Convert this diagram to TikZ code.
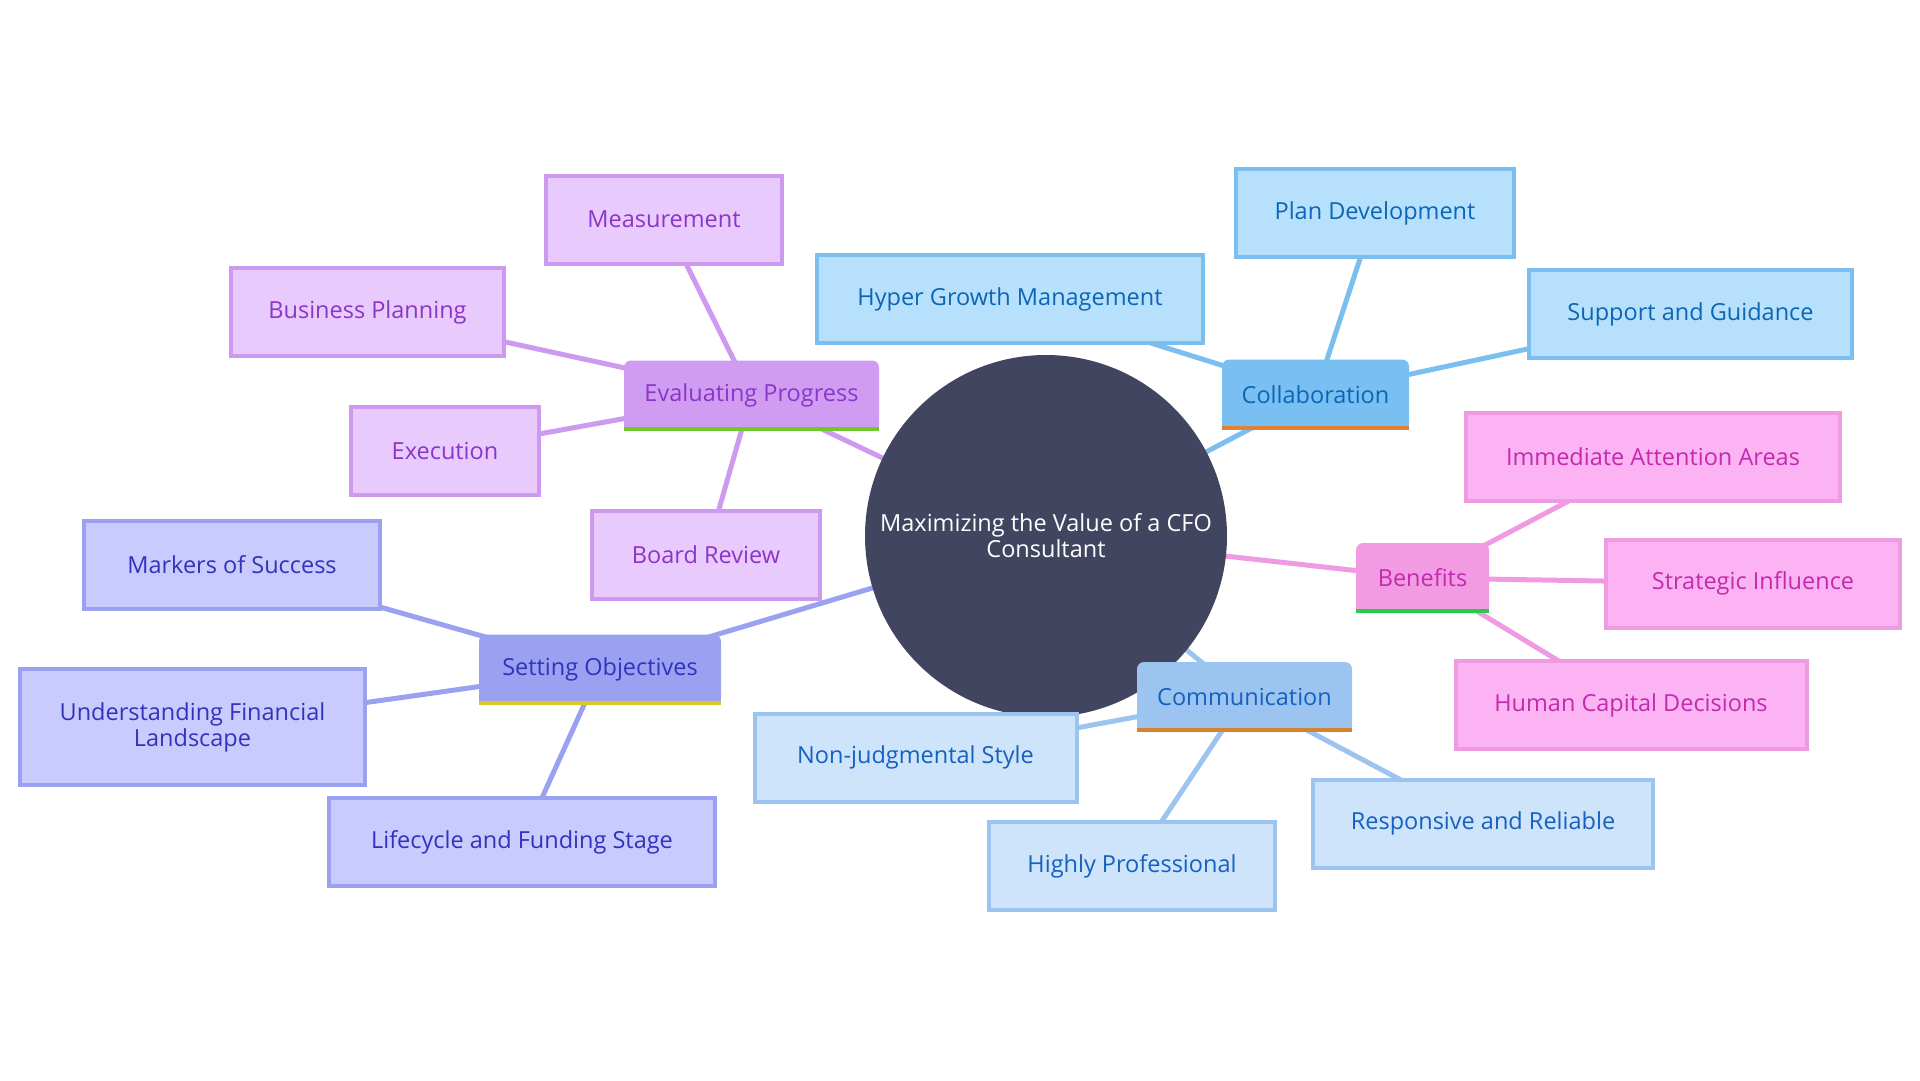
\documentclass[tikz,border=0pt]{standalone}
\usepackage{fontspec}
\setmainfont{Open Sans}
\usepackage{tikz}
\usetikzlibrary{backgrounds}

\definecolor{hubFill}{HTML}{414560}
% Evaluating Progress
\definecolor{evTopic}{HTML}{CF9CF2}
\definecolor{evLeaf}{HTML}{E8CAFD}
\definecolor{evBorder}{HTML}{CD9AF0}
\definecolor{evText}{HTML}{8B35C9}
\definecolor{evMark}{HTML}{6CCB2A}
% Collaboration
\definecolor{clTopic}{HTML}{79BFF1}
\definecolor{clLeaf}{HTML}{B7E0FD}
\definecolor{clBorder}{HTML}{7BBFF0}
\definecolor{clText}{HTML}{0B66B5}
\definecolor{clMark}{HTML}{E0813A}
% Benefits
\definecolor{bnTopic}{HTML}{F29BE3}
\definecolor{bnLeaf}{HTML}{FBB3F3}
\definecolor{bnBorder}{HTML}{F09AE2}
\definecolor{bnText}{HTML}{C42AAE}
\definecolor{bnMark}{HTML}{27CC46}
% Setting Objectives
\definecolor{soTopic}{HTML}{9BA1F1}
\definecolor{soLeaf}{HTML}{C9CBFE}
\definecolor{soBorder}{HTML}{9BA1F1}
\definecolor{soText}{HTML}{3133BC}
\definecolor{soMark}{HTML}{D8CB25}
% Communication
\definecolor{cmTopic}{HTML}{9CC4F0}
\definecolor{cmLeaf}{HTML}{CDE4FB}
\definecolor{cmBorder}{HTML}{9DC4F0}
\definecolor{cmText}{HTML}{1660C0}
\definecolor{cmMark}{HTML}{D6842B}

\tikzset{
  hub/.style={circle, fill=hubFill, text=white, minimum size=362pt, inner sep=0pt, align=center},
  topic/.style={rectangle, rounded corners=7pt, inner sep=0pt, minimum height=70pt, align=center},
  leaf/.style={rectangle, line width=4pt, inner sep=0pt, minimum height=88pt, align=center},
  evtopic/.style={topic, fill=evTopic, text=evText},
  evleaf/.style={leaf, draw=evBorder, fill=evLeaf, text=evText},
  cltopic/.style={topic, fill=clTopic, text=clText},
  clleaf/.style={leaf, draw=clBorder, fill=clLeaf, text=clText},
  bntopic/.style={topic, fill=bnTopic, text=bnText},
  bnleaf/.style={leaf, draw=bnBorder, fill=bnLeaf, text=bnText},
  sotopic/.style={topic, fill=soTopic, text=soText},
  soleaf/.style={leaf, draw=soBorder, fill=soLeaf, text=soText},
  cmtopic/.style={topic, fill=cmTopic, text=cmText},
  cmleaf/.style={leaf, draw=cmBorder, fill=cmLeaf, text=cmText},
  link/.style={draw=#1, line width=5pt},
}

% square bottom and coloured bar under a topic box
\newcommand{\topicbase}[3]{%
  \fill[#2] ([yshift=10pt]#1.south west) rectangle (#1.south east);
  \fill[#3] ([yshift=4pt]#1.south west) rectangle (#1.south east);}

\begin{document}
\begin{tikzpicture}[x=1pt, y=-1pt, every node/.style={font=\fontsize{23.5}{26}\selectfont}]
  \useasboundingbox (0,0) rectangle (1920,1080);

  \node[hub] (hub) at (1046, 536) {Maximizing the Value of a CFO\\Consultant};

  % topics
  \node[evtopic, minimum width=255pt] (eval) at (751.5, 395.5) {Evaluating Progress};
  \topicbase{eval}{evTopic}{evMark}
  \node[cltopic, minimum width=187pt] (collab) at (1315.5, 394.5) {Collaboration};
  \topicbase{collab}{clTopic}{clMark}
  \node[bntopic, minimum width=133pt] (benefit) at (1422.5, 578) {Benefits};
  \topicbase{benefit}{bnTopic}{bnMark}
  \node[sotopic, minimum width=242pt] (setobj) at (600, 669.5) {Setting Objectives};
  \topicbase{setobj}{soTopic}{soMark}
  \node[cmtopic, minimum width=215pt] (comm) at (1244.5, 697) {Communication};
  \topicbase{comm}{cmTopic}{cmMark}

  % leaves
  \node[evleaf, minimum width=236pt] (measure) at (664, 219.5) {Measurement};
  \node[evleaf, minimum width=273pt] (bizplan) at (367.5, 312) {Business Planning};
  \node[evleaf, minimum width=188pt] (execute) at (445, 451) {Execution};
  \node[evleaf, minimum width=228pt] (board) at (706, 554.5) {Board Review};

  \node[clleaf, minimum width=386pt] (hyper) at (1010, 299) {Hyper Growth Management};
  \node[clleaf, minimum width=278pt] (plandev) at (1375, 213) {Plan Development};
  \node[clleaf, minimum width=323pt] (support) at (1690.5, 314) {Support and Guidance};

  \node[bnleaf, minimum width=374pt] (attention) at (1653, 456.5) {Immediate Attention Areas};
  \node[bnleaf, minimum width=294pt] (strategic) at (1753, 583.5) {Strategic Influence};
  \node[bnleaf, minimum width=351pt] (human) at (1631, 705) {Human Capital Decisions};

  \node[soleaf, minimum width=296pt] (markers) at (232, 565) {Markers of Success};
  \node[soleaf, minimum width=345pt, minimum height=116pt] (landscape) at (192.5, 727) {Understanding Financial\\Landscape};
  \node[soleaf, minimum width=386pt] (lifecycle) at (522, 842) {Lifecycle and Funding Stage};

  \node[cmleaf, minimum width=322pt] (nonjudge) at (915.5, 757.5) {Non-judgmental Style};
  \node[cmleaf, minimum width=286pt] (profess) at (1132, 866) {Highly Professional};
  \node[cmleaf, minimum width=340pt] (reliable) at (1483, 823.5) {Responsive and Reliable};

  % connectors, behind the boxes
  \begin{scope}[on background layer]
    \draw[link=evBorder] (hub.center) -- (eval.center);
    \draw[link=evBorder] (eval.center) -- (measure.center);
    \draw[link=evBorder] (eval.center) -- (bizplan.center);
    \draw[link=evBorder] (eval.center) -- (execute.center);
    \draw[link=evBorder] (eval.center) -- (board.center);

    \draw[link=clBorder] (hub.center) -- (collab.center);
    \draw[link=clBorder] (collab.center) -- (hyper.center);
    \draw[link=clBorder] (collab.center) -- (plandev.center);
    \draw[link=clBorder] (collab.center) -- (support.center);

    \draw[link=bnBorder] (hub.center) -- (benefit.center);
    \draw[link=bnBorder] (benefit.center) -- (attention.center);
    \draw[link=bnBorder] (benefit.center) -- (strategic.center);
    \draw[link=bnBorder] (benefit.center) -- (human.center);

    \draw[link=soBorder] (hub.center) -- (setobj.center);
    \draw[link=soBorder] (setobj.center) -- (markers.center);
    \draw[link=soBorder] (setobj.center) -- (landscape.center);
    \draw[link=soBorder] (setobj.center) -- (lifecycle.center);

    \draw[link=cmBorder] (hub.center) -- (comm.center);
    \draw[link=cmBorder] (comm.center) -- (nonjudge.center);
    \draw[link=cmBorder] (comm.center) -- (profess.center);
    \draw[link=cmBorder] (comm.center) -- (reliable.center);
  \end{scope}
\end{tikzpicture}
\end{document}
